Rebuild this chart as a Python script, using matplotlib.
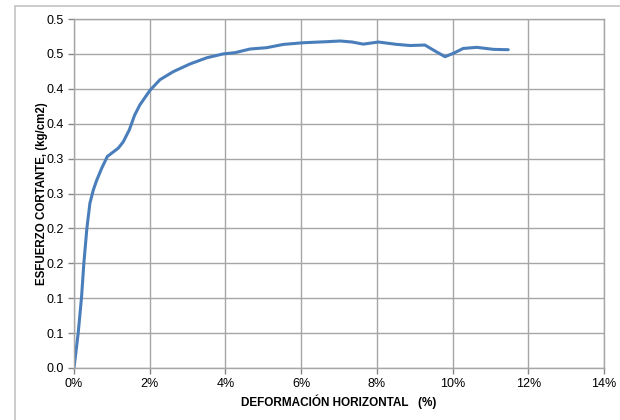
import matplotlib
matplotlib.use('Agg')
import matplotlib.pyplot as plt
from matplotlib.patches import Rectangle
from matplotlib.ticker import FuncFormatter

# deformacion horizontal (fraccion) vs esfuerzo cortante (kg/cm2)
deformacion = [0, 0.0011, 0.0020, 0.0026, 0.0034, 0.0042, 0.0051, 0.0060, 0.0073, 0.0088,
               0.0100, 0.0117, 0.0130, 0.0146, 0.0160, 0.0174, 0.0201, 0.0227, 0.0262,
               0.0306, 0.0351, 0.0394, 0.0425, 0.0465, 0.0509, 0.0553, 0.0606, 0.0668,
               0.0703, 0.0735, 0.0764, 0.0804, 0.0853, 0.0888, 0.0927, 0.0949, 0.0980,
               0.1002, 0.1028, 0.1064, 0.1108, 0.1147]
esfuerzo = [0, 0.0497, 0.102, 0.150, 0.200, 0.236, 0.255, 0.269, 0.286, 0.303,
            0.308, 0.315, 0.324, 0.341, 0.362, 0.377, 0.398, 0.413, 0.4245,
            0.4355, 0.4445, 0.450, 0.4517, 0.457, 0.4589, 0.4636, 0.466, 0.4675,
            0.4685, 0.467, 0.464, 0.467, 0.4636, 0.462, 0.4627, 0.4556, 0.446,
            0.4508, 0.4578, 0.4594, 0.4565, 0.456]

yticks = [0, 0.05, 0.1, 0.15, 0.2, 0.25, 0.3, 0.35, 0.4, 0.45, 0.5]
ytick_labels = ['0.0', '0.1', '0.1', '0.2', '0.2', '0.3', '0.3', '0.4', '0.4', '0.5', '0.5']
xticks = [0, 0.02, 0.04, 0.06, 0.08, 0.10, 0.12, 0.14]

plt.rcParams['font.family'] = ['Liberation Sans', 'DejaVu Sans']

fig = plt.figure(figsize=(6.2, 4.2), dpi=100)
# chart area border
fig.patches.append(Rectangle((15 / 620, -0.1), 1.0, 1.1 - 6 / 420, transform=fig.transFigure,
                             fill=False, edgecolor='#c4c4c4', linewidth=1.2))

ax = fig.add_axes([74 / 620, 52 / 420, 530 / 620, 349 / 420])
ax.plot(deformacion, esfuerzo, color='#4a7ebb', linewidth=2.2,
        solid_joinstyle='round', solid_capstyle='round')

ax.set_xlim(0, 0.14)
ax.set_ylim(0, 0.5)
ax.set_xticks(xticks)
ax.xaxis.set_major_formatter(FuncFormatter(lambda v, p: f'{v * 100:.0f}%'))
ax.set_yticks(yticks)
ax.set_yticklabels(ytick_labels)

ax.grid(True, color='#a6a6a6', linewidth=1.0)
ax.set_axisbelow(True)
for s in ax.spines.values():
    s.set_color('#a6a6a6')
    s.set_linewidth(1.0)
ax.tick_params(axis='both', colors='#868686', length=4, width=1.0, labelsize=9, labelcolor='black')

ax.set_xlabel('DEFORMACIÓN HORIZONTAL   (%)', fontsize=8.5, fontweight='bold', labelpad=3)
ax.set_ylabel('ESFUERZO CORTANTE, (kg/cm2)', fontsize=8.3, fontweight='bold', labelpad=-1)

fig.savefig('out.png', dpi=100)
